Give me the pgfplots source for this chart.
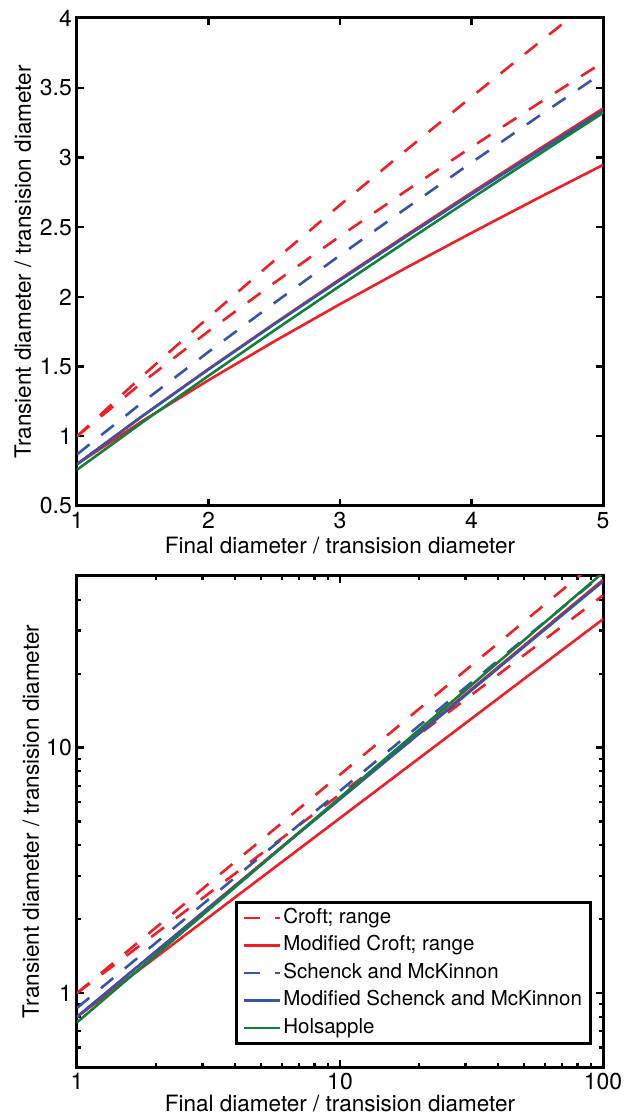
\documentclass[border=0pt]{standalone}
\usepackage{fontspec}
\setmainfont{TeX Gyre Heros}
\usepackage{pgfplots}
\pgfplotsset{compat=1.18}
\definecolor{cred}{RGB}{236,32,38}
\definecolor{cblue}{RGB}{55,84,166}
\definecolor{cgreen}{RGB}{16,128,60}
\pgfplotsset{
  common/.style={
    scale only axis, width=526pt,
    axis line style={line width=3pt, black},
    tick style={line width=2.2pt, black},
    major tick length=7pt, minor tick length=4pt,
    tick align=inside, xtick pos=both, ytick pos=both,
    /pgf/number format/assume math mode=true,
    tick label style={font=\fontsize{23}{27}\selectfont},
    xticklabel style={inner sep=2pt, yshift=-4pt},
    yticklabel style={inner sep=2pt, xshift=-3pt},
    label style={font=\fontsize{22.5}{27}\selectfont, inner sep=1pt},
    xlabel={Final diameter / transision diameter},
    ylabel={Transient diameter / transision diameter},
  },
  dashr/.style={cred, line width=2.6pt, dash pattern=on 16pt off 15pt},
  solr/.style={cred, line width=2.6pt},
  dashb/.style={cblue, line width=2.6pt, dash pattern=on 16pt off 15pt},
  solb/.style={cblue, line width=2.6pt},
  solg/.style={cgreen, line width=2.6pt},
}
\begin{document}
\begin{tikzpicture}[x=1pt,y=1pt]
\useasboundingbox (-77,-49) rectangle (548,1067);
% ---------------- top (linear) ----------------
\begin{axis}[common, at={(0pt,561pt)}, height=488pt,
  xmin=1, xmax=5, ymin=0.5, ymax=4,
  xtick={1,2,3,4,5}, ytick={0.5,1,1.5,2,2.5,3,3.5,4},
  xlabel style={at={(axis description cs:0.5,-0.082)}, anchor=center},
  ylabel style={at={(axis description cs:-0.1027,0.5)}, anchor=center},
]
\addplot[dashr] coordinates {(1,1) (1.5,1.4346) (2,1.8532) (2.5,2.2604) (3,2.6586) (3.5,3.0496) (4,3.4340) (4.5,3.8137) (5,4.1887)};
\addplot[dashr] coordinates {(1,1) (1.5,1.3888) (2,1.7532) (2.5,2.1007) (3,2.4349) (3.5,2.7588) (4,3.0738) (4.5,3.3815) (5,3.6828)};
\addplot[solr] coordinates {(1,0.8) (1.5,1.1477) (2,1.4826) (2.5,1.8083) (3,2.1269) (3.5,2.4397) (4,2.7472) (4.5,3.0510) (5,3.3510)};
\addplot[solr] coordinates {(1,0.8) (1.5,1.1110) (2,1.4026) (2.5,1.6806) (3,1.9479) (3.5,2.2070) (4,2.4590) (4.5,2.7052) (5,2.9462)};
\addplot[dashb] coordinates {(1,0.87) (1.5,1.2450) (2,1.6054) (2.5,1.9557) (3,2.2978) (3.5,2.6333) (4,2.9629) (4.5,3.2883) (5,3.6091)};
\addplot[solb] coordinates {(1,0.8) (1.5,1.1463) (2,1.4794) (2.5,1.8034) (3,2.1198) (3.5,2.4306) (4,2.7359) (4.5,3.0374) (5,3.3350)};
\addplot[solg] coordinates {(1,0.76) (1.5,1.1018) (2,1.4340) (2.5,1.7592) (3,2.0790) (3.5,2.3945) (4,2.7058) (4.5,3.0142) (5,3.3195)};
\end{axis}
% ---------------- bottom (log-log) ----------------
\begin{axis}[common, at={(0pt,0pt)}, height=491pt,
  xmode=log, ymode=log,
  xmin=1, xmax=100, ymin=0.5, ymax=50,
  xtick={1,10,100}, xticklabels={1,10,100},
  ytick={1,10}, yticklabels={1,10},
  minor xtick={2,3,4,5,6,7,8,9,20,30,40,50,60,70,80,90},
  minor ytick={0.5,0.6,0.7,0.8,0.9,2,3,4,5,6,7,8,9,20,30,40,50},
  xlabel style={at={(axis description cs:0.5,-0.074)}, anchor=center},
  ylabel style={at={(axis description cs:-0.0875,0.5)}, anchor=center},
  legend cell align=left,
  legend style={at={(axis description cs:0.979,0.045)}, anchor=south east,
    draw=black, line width=3pt, fill=white,
    font=\fontsize{20.5}{24}\selectfont,
    inner xsep=6pt, inner ysep=5pt, row sep=6.5pt,
    nodes={inner xsep=2.5pt, inner ysep=1pt, text height=15pt, text depth=4pt}},
  legend image code/.code={\draw[#1, line width=2.6pt] (0pt,0pt) -- (36pt,0pt);},
]
\addplot[dashr] coordinates {(1,1) (10,7.762) (100,60.26)};
\addlegendentry{Croft; range}
\addplot[dashr, forget plot] coordinates {(1,1) (10,6.457) (100,41.69)};
\addplot[solr] coordinates {(1,0.8) (10,6.209) (100,48.21)};
\addlegendentry{Modified Croft; range}
\addplot[solr, forget plot] coordinates {(1,0.8) (10,5.165) (100,33.35)};
\addplot[dashb] coordinates {(1,0.87) (10,6.661) (100,50.99)};
\addlegendentry{Schenck and McKinnon}
\addplot[solb] coordinates {(1,0.8) (10,6.167) (100,47.54)};
\addlegendentry{Modified Schenck and McKinnon}
\addplot[solg] coordinates {(1,0.76) (10,6.263) (100,51.62)};
\addlegendentry{Holsapple}
\end{axis}
\end{tikzpicture}
\end{document}
